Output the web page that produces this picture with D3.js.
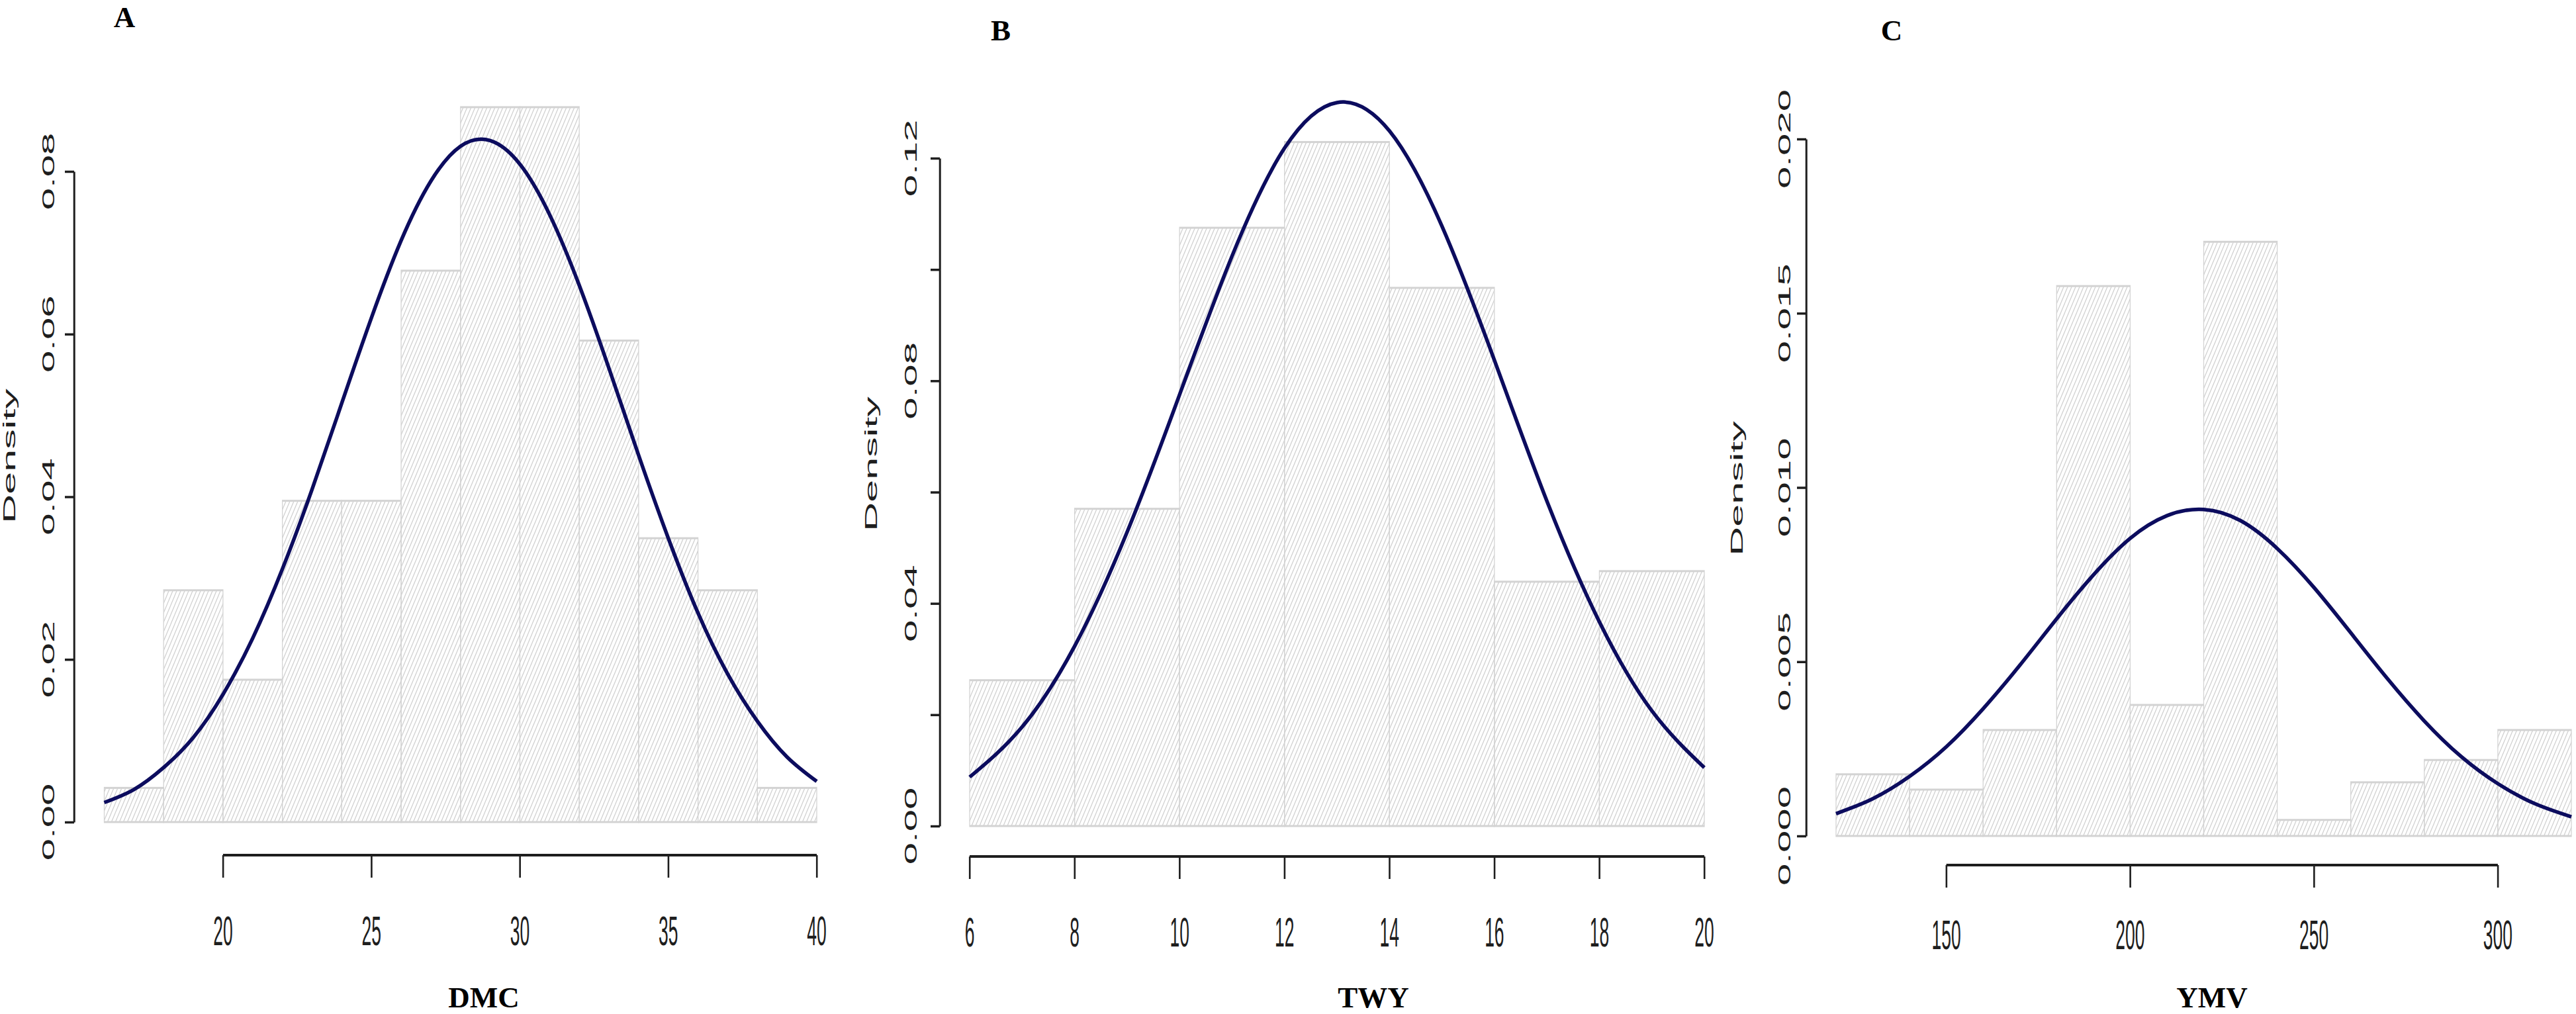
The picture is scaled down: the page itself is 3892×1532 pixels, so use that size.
<!DOCTYPE html>
<html>
<head>
<meta charset="utf-8">
<script src="https://cdn.jsdelivr.net/npm/d3@7/dist/d3.min.js"></script>
<style>
  body { margin: 0; background: #fff; }
</style>
</head>
<body>
<svg id="chart" width="3892" height="1532"></svg>
<script>
// ---- values ----
// A: DMC
const dmcBreaks = [16, 18, 20, 22, 24, 26, 28, 30, 32, 34, 36, 38, 40];
const dmcDensity = [0.0042, 0.0285, 0.0175, 0.0395, 0.0395, 0.0678, 0.0879, 0.0879, 0.0592, 0.0349, 0.0285, 0.0042];
const dmcCurveX = [16, 17, 18, 19, 20, 21, 22, 23, 24, 25, 26, 27, 28, 29, 30, 31, 32, 33, 34, 35, 36, 37, 38, 39, 40];
const dmcCurveY = [0.0024, 0.0040, 0.0067, 0.0104, 0.0157, 0.0226, 0.0311, 0.0409, 0.0515, 0.0620, 0.0715, 0.0788, 0.0831,
                   0.0838, 0.0809, 0.0747, 0.0660, 0.0558, 0.0451, 0.0349, 0.0257, 0.0182, 0.0124, 0.0080, 0.0050];
const dmcXTicks = [20, 25, 30, 35, 40];
const dmcYTicks = [0, 0.02, 0.04, 0.06, 0.08];
const dmcYLabels = [0, 0.02, 0.04, 0.06, 0.08];

// B: TWY
const twyBreaks = [6, 8, 10, 12, 14, 16, 18, 20];
const twyDensity = [0.0262, 0.0570, 0.1075, 0.1229, 0.0967, 0.0439, 0.0458];
const twyCurveX = [6, 7, 8, 9, 10, 11, 12, 13, 14, 15, 16, 17, 18, 19, 20];
const twyCurveY = [0.0088, 0.0178, 0.0323, 0.0528, 0.0775, 0.1024, 0.1218, 0.1300, 0.1249, 0.1078, 0.0837, 0.0584, 0.0367, 0.0207, 0.0105];
const twyXTicks = [6, 8, 10, 12, 14, 16, 18, 20];
const twyYTicks = [0, 0.02, 0.04, 0.06, 0.08, 0.10, 0.12];
const twyYLabels = [0, 0.04, 0.08, 0.12];

// C: YMV
const ymvBreaks = [120, 140, 160, 180, 200, 220, 240, 260, 280, 300, 320];
const ymvDensity = [0.00177, 0.00133, 0.00304, 0.01578, 0.00376, 0.01705, 0.00046, 0.00154, 0.00218, 0.00304];
const ymvCurveX = [120, 130, 140, 150, 160, 170, 180, 190, 200, 210, 220, 230, 240, 250, 260, 270, 280, 290, 300, 310, 320];
const ymvCurveY = [0.00064, 0.00107, 0.00171, 0.00256, 0.00365, 0.00490, 0.00623, 0.00749, 0.00854, 0.00919, 0.00937,
                   0.00905, 0.00825, 0.00713, 0.00583, 0.00451, 0.00330, 0.00228, 0.00150, 0.00093, 0.00055];
const ymvXTicks = [150, 200, 250, 300];
const ymvYTicks = [0, 0.005, 0.010, 0.015, 0.020];
const ymvYLabels = [0, 0.005, 0.010, 0.015, 0.020];

// ---- layout ----
const SX = 0.42;          // the R panels were squeezed sideways in the figure
const FS_Y = 60, FS_X = 63, FS_TITLE = 45;
const BAR_COL = "#d3d3d3", CURVE_COL = "#0c0c5e", INK = "#1e1e1e";

const panels = [
  { letter: "A", name: "DMC", breaks: dmcBreaks, dens: dmcDensity, cx: dmcCurveX, cy: dmcCurveY,
    xTicks: dmcXTicks, yTicks: dmcYTicks, yLabels: dmcYLabels, fmt: ".2f", yTop: 0.08,
    px: [157.5, 1234], py: [1242, 259], axisX: 112, axisY: 1292, xLabY: 1405, yLabX: 73,
    densX: 15, densY: 689, letterX: 188, letterY: 41, titleX: 731 },
  { letter: "B", name: "TWY", breaks: twyBreaks, dens: twyDensity, cx: twyCurveX, cy: twyCurveY,
    xTicks: twyXTicks, yTicks: twyYTicks, yLabels: twyYLabels, fmt: ".2f", yTop: 0.12,
    px: [1465, 2575], py: [1248, 239], axisX: 1420, axisY: 1294, xLabY: 1407, yLabX: 1376,
    densX: 1317, densY: 701, letterX: 1512, letterY: 61, titleX: 2075 },
  { letter: "C", name: "YMV", breaks: ymvBreaks, dens: ymvDensity, cx: ymvCurveX, cy: ymvCurveY,
    xTicks: ymvXTicks, yTicks: ymvYTicks, yLabels: ymvYLabels, fmt: ".3f", yTop: 0.020,
    px: [2774, 3885], py: [1263, 210], axisX: 2729, axisY: 1307, xLabY: 1411, yLabX: 2696,
    densX: 2625, densY: 738, letterX: 2858, letterY: 61, titleX: 3342 }
];

const svg = d3.select("#chart");
svg.append("rect").attr("width", 3892).attr("height", 1532).attr("fill", "#fff");

// hatching, R style angle 45 (appears steeper once squeezed)
const H = 6 / SX;
svg.append("defs").append("pattern")
    .attr("id", "hatch")
    .attr("patternUnits", "userSpaceOnUse")
    .attr("width", H).attr("height", H)
  .append("path")
    .attr("d", `M0,${H} L${H},0 M-2,2 L2,-2 M${H - 2},${H + 2} L${H + 2},${H - 2}`)
    .attr("stroke", "#cfcfcf")
    .attr("stroke-width", 2.2);

const squeezed = svg.append("g").attr("transform", `scale(${SX},1)`);
const plain = svg.append("g");

panels.forEach(p => {
    const x = d3.scaleLinear()
        .domain([p.breaks[0], p.breaks[p.breaks.length - 1]])
        .range([p.px[0] / SX, p.px[1] / SX]);
    const xPlain = x.copy().range(p.px);   // same scale in page pixels, for the curve
    const y = d3.scaleLinear().domain([0, p.yTop]).range(p.py);

    const g = squeezed.append("g").attr("class", "panel");

    // histogram bars
    const bins = p.dens.map((d, i) => ({ x0: p.breaks[i], x1: p.breaks[i + 1], d: d }));
    g.selectAll(".bar")
        .data(bins)
        .enter().append("rect")
        .attr("class", "bar")
        .attr("x", d => x(d.x0))
        .attr("width", d => x(d.x1) - x(d.x0))
        .attr("y", d => y(d.d))
        .attr("height", d => y(0) - y(d.d))
        .attr("fill", "url(#hatch)")
        .attr("stroke", BAR_COL)
        .attr("stroke-width", 3);

    // y axis
    const ya = g.append("g")
        .attr("transform", `translate(${p.axisX / SX},0)`)
        .call(d3.axisLeft(y).tickValues(p.yTicks).tickSize(14 / SX).tickSizeOuter(0).tickFormat(""));
    ya.select(".domain").attr("stroke", INK).attr("stroke-width", 3 / SX);
    ya.selectAll(".tick line").attr("stroke", INK).attr("stroke-width", 3.5);

    g.selectAll(".ylab")
        .data(p.yLabels)
        .enter().append("text")
        .attr("class", "ylab")
        .attr("transform", d => `translate(${p.yLabX / SX + 0.36 * FS_Y},${y(d)}) rotate(-90)`)
        .attr("text-anchor", "middle")
        .style("font", `${FS_Y}px "Liberation Sans", Arial, sans-serif`)
        .attr("fill", INK)
        .text(d => d3.format(p.fmt)(d));

    g.append("text")
        .attr("transform", `translate(${p.densX / SX + 0.3 * FS_Y},${p.densY}) rotate(-90)`)
        .attr("text-anchor", "middle")
        .style("font", `${FS_Y + 1}px "Liberation Sans", Arial, sans-serif`)
        .attr("fill", INK)
        .text("Density");

    // x axis, line only between first and last tick as in R
    const xa = g.append("g")
        .attr("transform", `translate(0,${p.axisY})`)
        .call(d3.axisBottom(x).tickValues(p.xTicks).tickSize(34).tickSizeOuter(0).tickFormat(""));
    xa.select(".domain").remove();
    xa.selectAll(".tick line").attr("stroke", INK).attr("stroke-width", 2.6 / SX);
    xa.append("line")
        .attr("x1", x(p.xTicks[0]))
        .attr("x2", x(p.xTicks[p.xTicks.length - 1]))
        .attr("stroke", INK)
        .attr("stroke-width", 4);

    g.selectAll(".xlab")
        .data(p.xTicks)
        .enter().append("text")
        .attr("class", "xlab")
        .attr("x", d => x(d))
        .attr("y", p.xLabY + 0.36 * FS_X)
        .attr("text-anchor", "middle")
        .style("font", `${FS_X}px "Liberation Sans", Arial, sans-serif`)
        .attr("fill", INK)
        .text(d => d);

    // normal curve, even line weight
    const line = d3.line()
        .x(d => xPlain(d[0]))
        .y(d => y(d[1]))
        .curve(d3.curveNatural);
    plain.append("path")
        .attr("d", line(p.cx.map((v, i) => [v, p.cy[i]])))
        .attr("fill", "none")
        .attr("stroke", CURVE_COL)
        .attr("stroke-width", 5.5)
        .attr("stroke-linejoin", "round");

    // panel letter and variable name
    plain.append("text")
        .attr("x", p.letterX)
        .attr("y", p.letterY)
        .attr("text-anchor", "middle")
        .style("font", `bold ${FS_TITLE}px "Liberation Serif", "Times New Roman", serif`)
        .text(p.letter);

    plain.append("text")
        .attr("x", p.titleX)
        .attr("y", 1522)
        .attr("text-anchor", "middle")
        .style("font", `bold ${FS_TITLE}px "Liberation Serif", "Times New Roman", serif`)
        .text(p.name);
});
</script>
</body>
</html>
